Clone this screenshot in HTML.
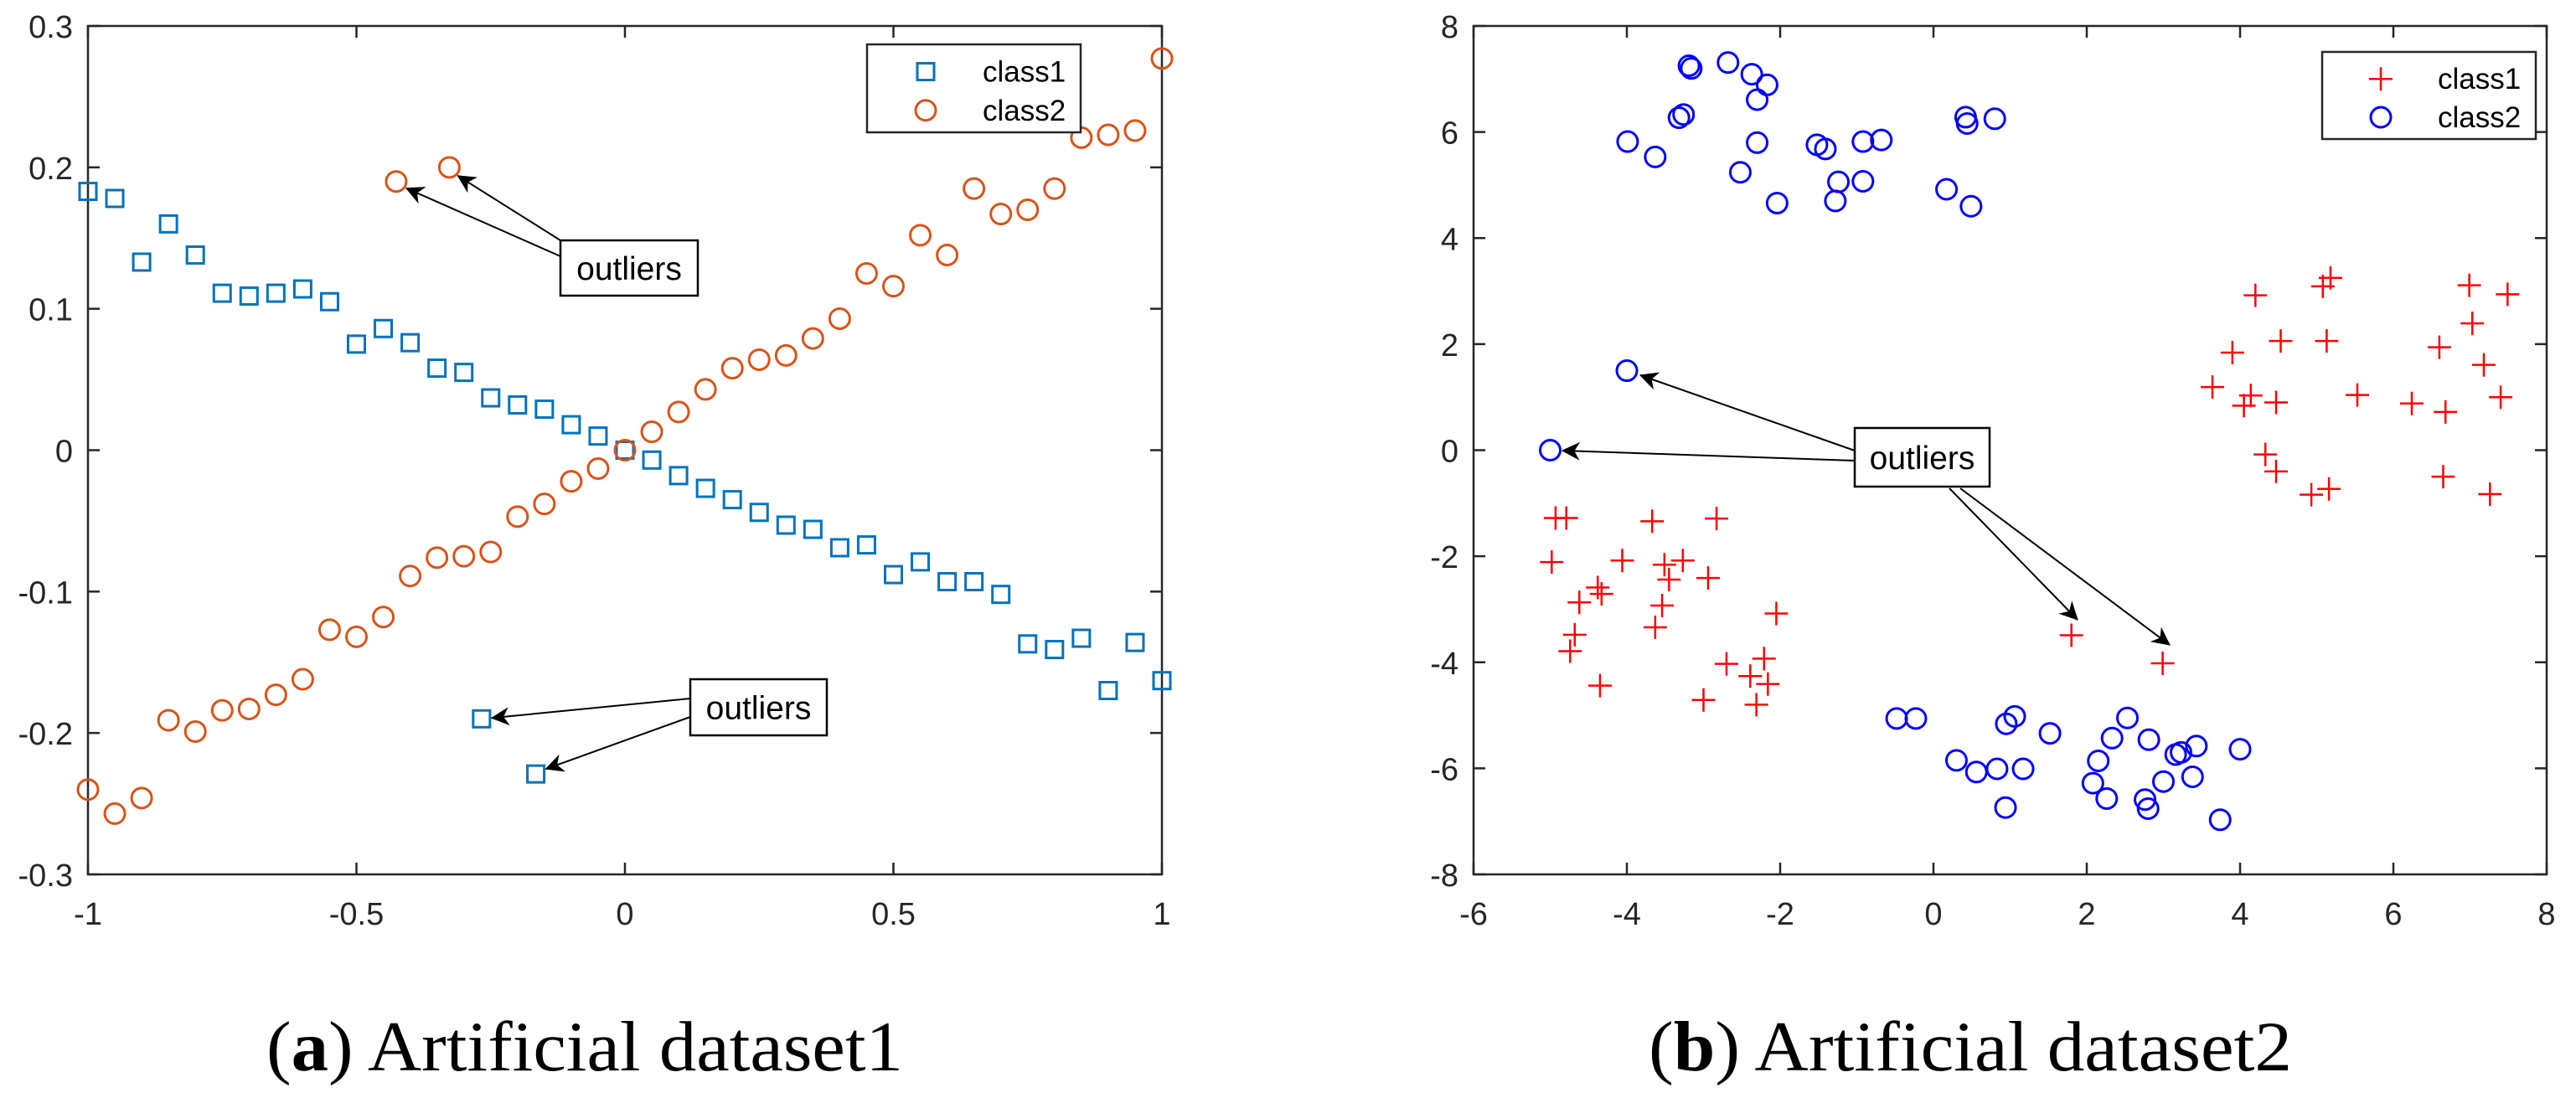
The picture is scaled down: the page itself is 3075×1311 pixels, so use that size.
<!DOCTYPE html>
<html><head><meta charset="utf-8"><style>
html,body{margin:0;padding:0;background:#fff;}
svg{display:block;font-family:"Liberation Sans",Arial,sans-serif;}
</style></head><body>
<svg id="fig" width="3075" height="1311" viewBox="0 0 3075 1311" xmlns="http://www.w3.org/2000/svg">
<defs>
<marker id="ah" viewBox="0 0 20 20" refX="19" refY="10" markerWidth="22" markerHeight="22" markerUnits="userSpaceOnUse" orient="auto">
<path d="M0,0 L20,10 L0,20 L6,10 Z" fill="#000"/>
</marker>
</defs>
<g id="chartA"></g>
<g id="chartB"></g>
<text x="318" y="1278" font-family="'Liberation Serif',serif" font-size="85" textLength="760" lengthAdjust="spacingAndGlyphs">(<tspan font-weight="bold">a</tspan>) Artificial dataset1</text>
<text x="1968" y="1278" font-family="'Liberation Serif',serif" font-size="85" textLength="768" lengthAdjust="spacingAndGlyphs">(<tspan font-weight="bold">b</tspan>) Artificial dataset2</text>
</svg>
<script>
// ---- Chart A data ----
const aX = [-1,-0.95,-0.9,-0.85,-0.8,-0.75,-0.7,-0.65,-0.6,-0.55,-0.5,-0.45,-0.4,-0.35,-0.3,-0.25,-0.2,-0.15,-0.1,-0.05,0,0.05,0.1,0.15,0.2,0.25,0.3,0.35,0.4,0.45,0.5,0.55,0.6,0.65,0.7,0.75,0.8,0.85,0.9,0.95,1];
const aClass1Y = [0.183,0.178,0.133,0.160,0.138,0.111,0.109,0.111,0.114,0.105,0.075,0.086,0.076,0.058,0.055,0.037,0.032,0.029,0.018,0.010,0,-0.007,-0.018,-0.027,-0.035,-0.044,-0.053,-0.056,-0.069,-0.067,-0.088,-0.079,-0.093,-0.093,-0.102,-0.137,-0.141,-0.133,-0.170,-0.136,-0.163];
const aClass2Y = [-0.240,-0.257,-0.246,-0.191,-0.199,-0.184,-0.183,-0.173,-0.162,-0.127,-0.132,-0.118,-0.089,-0.076,-0.075,-0.072,-0.047,-0.038,-0.022,-0.013,0,0.013,0.027,0.043,0.058,0.064,0.067,0.079,0.093,0.125,0.116,0.152,0.138,0.185,0.167,0.170,0.185,0.221,0.223,0.226,0.277];
const aOut1X = [-0.267,-0.166];
const aOut1Y = [-0.190,-0.229];
const aOut2X = [-0.426,-0.327];
const aOut2Y = [0.190,0.200];
const aXTicks = [-1,-0.5,0,0.5,1];
const aXTickLabels = ["-1","-0.5","0","0.5","1"];
const aYTicks = [-0.3,-0.2,-0.1,0,0.1,0.2,0.3];
const aYTickLabels = ["-0.3","-0.2","-0.1","0","0.1","0.2","0.3"];
// ---- Chart B data ----
const bClass1X = [-4.93,-4.79,-4.98,-4.06,-3.67,-2.83,-3.51,-3.27,-3.45,-2.94,-4.38,-4.33,-4.62,-3.54,-3.63,-4.68,-4.74,-2.05,-4.35,-2.70,-2.39,-2.21,-2.16,-2.31,-3.00,1.80,2.99,4.20,5.08,5.18,4.53,5.13,3.90,3.64,4.14,4.05,4.47,5.53,4.33,4.47,4.93,5.16,6.24,6.60,6.68,6.65,6.99,7.03,7.18,7.40,7.49,7.26];
const bClass1Y = [-1.28,-1.28,-2.11,-2.08,-1.34,-1.29,-2.16,-2.08,-2.44,-2.41,-2.59,-2.71,-2.87,-2.93,-3.34,-3.48,-3.79,-3.08,-4.44,-4.03,-4.26,-3.93,-4.41,-4.80,-4.71,-3.49,-4.02,2.92,3.09,3.25,2.06,2.06,1.84,1.19,1.03,0.84,0.90,1.04,-0.08,-0.40,-0.84,-0.73,0.88,1.94,0.72,-0.50,3.11,2.39,1.61,1.00,2.94,-0.83];
const bClass2X = [-3.19,-3.16,-2.68,-2.37,-2.17,-2.30,-3.32,-3.26,-3.99,-3.63,-2.30,-2.52,-2.04,-1.52,-1.41,-0.92,-0.68,-1.24,-0.92,-1.28,0.17,0.49,0.42,0.44,0.80,-4.0,-5.0,-0.48,-0.23,0.30,0.56,0.83,0.94,0.95,1.06,1.17,1.52,2.08,2.15,2.26,2.33,2.53,2.76,2.80,2.81,3.00,3.16,3.23,3.38,3.43,4.00,3.74];
const bClass2Y = [7.25,7.20,7.31,7.09,6.89,6.61,6.27,6.33,5.82,5.53,5.80,5.24,4.66,5.76,5.68,5.82,5.85,5.06,5.07,4.70,4.92,4.60,6.28,6.16,6.25,1.50,0.0,-5.06,-5.06,-5.85,-6.07,-6.01,-6.74,-5.16,-5.02,-6.01,-5.34,-6.28,-5.86,-6.57,-5.43,-5.05,-6.59,-6.76,-5.46,-6.25,-5.74,-5.70,-6.16,-5.58,-5.64,-6.97];
const bXTicks = [-6,-4,-2,0,2,4,6,8];
const bXTickLabels = ["-6","-4","-2","0","2","4","6","8"];
const bYTicks = [-8,-6,-4,-2,0,2,4,6,8];
const bYTickLabels = ["-8","-6","-4","-2","0","2","4","6","8"];

const NS = "http://www.w3.org/2000/svg";
function mk(parent, tag, attrs){
  const e = document.createElementNS(NS, tag);
  for (const k in attrs) e.setAttribute(k, attrs[k]);
  parent.appendChild(e);
  return e;
}
const AX = {x0:105,x1:1387,y0:31,y1:1044,xmin:-1,xmax:1,ymin:-0.3,ymax:0.3};
const BX = {x0:1759,x1:3040,y0:31,y1:1044,xmin:-6,xmax:8,ymin:-8,ymax:8};
function sx(ax,v){return ax.x0+(v-ax.xmin)/(ax.xmax-ax.xmin)*(ax.x1-ax.x0);}
function sy(ax,v){return ax.y1-(v-ax.ymin)/(ax.ymax-ax.ymin)*(ax.y1-ax.y0);}

function drawAxes(g, ax, xt, xtl, yt, ytl){
  const fr = mk(g,'rect',{x:ax.x0,y:ax.y0,width:ax.x1-ax.x0,height:ax.y1-ax.y0,fill:'none',stroke:'#262626','stroke-width':2.5});
  
  
  xt.forEach((v,i)=>{
    const x = sx(ax,v);
    const t1 = mk(g,'line',{x1:x,x2:x,y1:ax.y1,y2:ax.y1-14,stroke:'#262626','stroke-width':2.5});
    
    
    const t2 = mk(g,'line',{x1:x,x2:x,y1:ax.y0,y2:ax.y0+14,stroke:'#262626','stroke-width':2.5});
    
    
    const tx = mk(g,'text',{x:x,y:ax.y1+60,'text-anchor':'middle','font-size':38,fill:'#262626'});
    tx.textContent = xtl[i];
    
    
  });
  yt.forEach((v,i)=>{
    const y = sy(ax,v);
    const t1 = mk(g,'line',{x1:ax.x0,x2:ax.x0+14,y1:y,y2:y,stroke:'#262626','stroke-width':2.5});
    
    
    const t2 = mk(g,'line',{x1:ax.x1,x2:ax.x1-14,y1:y,y2:y,stroke:'#262626','stroke-width':2.5});
    
    
    const tx = mk(g,'text',{x:ax.x0-18,y:y+14,'text-anchor':'end','font-size':38,fill:'#262626'});
    tx.textContent = ytl[i];
    
    
  });
}
function square(g,x,y,col){
  const r = mk(g,'rect',{x:x-10,y:y-10,width:20,height:20,fill:'none',stroke:col,'stroke-width':3});
  
  
}
function circle(g,x,y,col){
  const c = mk(g,'circle',{cx:x,cy:y,r:12,fill:'none',stroke:col,'stroke-width':3});
  
  
}
function plus(g,x,y,col){
  const p = mk(g,'path',{d:`M${x-14},${y}H${x+14}M${x},${y-14}V${y+14}`,stroke:col,'stroke-width':2.5,fill:'none'});
  
  
}
function arrow(g,x1,y1,x2,y2){
  const l = mk(g,'line',{x1:x1,y1:y1,x2:x2,y2:y2,stroke:'#000','stroke-width':2,'marker-end':'url(#ah)'});
  
  
}
function textbox(g,x,y,w,h,label){
  const r = mk(g,'rect',{x:x,y:y,width:w,height:h,fill:'#fff',stroke:'#000','stroke-width':2.5});
  
  
  const t = mk(g,'text',{x:x+w/2,y:y+h/2+14,'text-anchor':'middle','font-size':39,fill:'#000'});
  t.textContent = label;
  
  
}
function legend(g,x,y,w,h,items){
  const r = mk(g,'rect',{x:x,y:y,width:w,height:h,fill:'#fff',stroke:'#262626','stroke-width':2.5});
  
  
  items.forEach((it,i)=>{
    const cy = y + h*(0.31+0.44*i);
    it.draw(g, x+70, cy, it.col);
    const t = mk(g,'text',{x:x+138,y:cy+12,'font-size':35,fill:'#000'});
    t.textContent = it.label;
    
    
  });
}

// Chart A
const gA = document.getElementById('chartA');
drawAxes(gA, AX, aXTicks, aXTickLabels, aYTicks, aYTickLabels);
const BLUE='#0072BD', ORANGE='#D95319';
aX.forEach((v,i)=>square(gA,sx(AX,v),sy(AX,aClass1Y[i]),BLUE));
aOut1X.forEach((v,i)=>square(gA,sx(AX,v),sy(AX,aOut1Y[i]),BLUE));
aX.forEach((v,i)=>circle(gA,sx(AX,v),sy(AX,aClass2Y[i]),ORANGE));
aOut2X.forEach((v,i)=>circle(gA,sx(AX,v),sy(AX,aOut2Y[i]),ORANGE));
arrow(gA,669,287,sx(AX,aOut2X[1])+10,sy(AX,aOut2Y[1])+10);
arrow(gA,669,306,sx(AX,aOut2X[0])+12,sy(AX,aOut2Y[0])+8);
textbox(gA,669,287,164,66,'outliers');
arrow(gA,824,834,sx(AX,aOut1X[0])+12,sy(AX,aOut1Y[0])-1);
arrow(gA,824,856,sx(AX,aOut1X[1])+12,sy(AX,aOut1Y[1])-6);
textbox(gA,824,811,163,67,'outliers');
legend(gA,1035,53,255,105,[{label:'class1',col:BLUE,draw:square},{label:'class2',col:ORANGE,draw:circle}]);

// Chart B
const gB = document.getElementById('chartB');
drawAxes(gB, BX, bXTicks, bXTickLabels, bYTicks, bYTickLabels);
const RED='#FF0000', PBLUE='#0000FF';
bClass1X.forEach((v,i)=>plus(gB,sx(BX,v),sy(BX,bClass1Y[i]),RED));
bClass2X.forEach((v,i)=>circle(gB,sx(BX,v),sy(BX,bClass2Y[i]),PBLUE));
arrow(gB,2214,538,1958,448);
arrow(gB,2214,550,1865,538);
arrow(gB,2327,583,2480,740);
arrow(gB,2340,583,2590,770);
textbox(gB,2214,511,161,70,'outliers');
legend(gB,2772,62,255,104,[{label:'class1',col:RED,draw:plus},{label:'class2',col:PBLUE,draw:circle}]);
</script>
</body></html>
